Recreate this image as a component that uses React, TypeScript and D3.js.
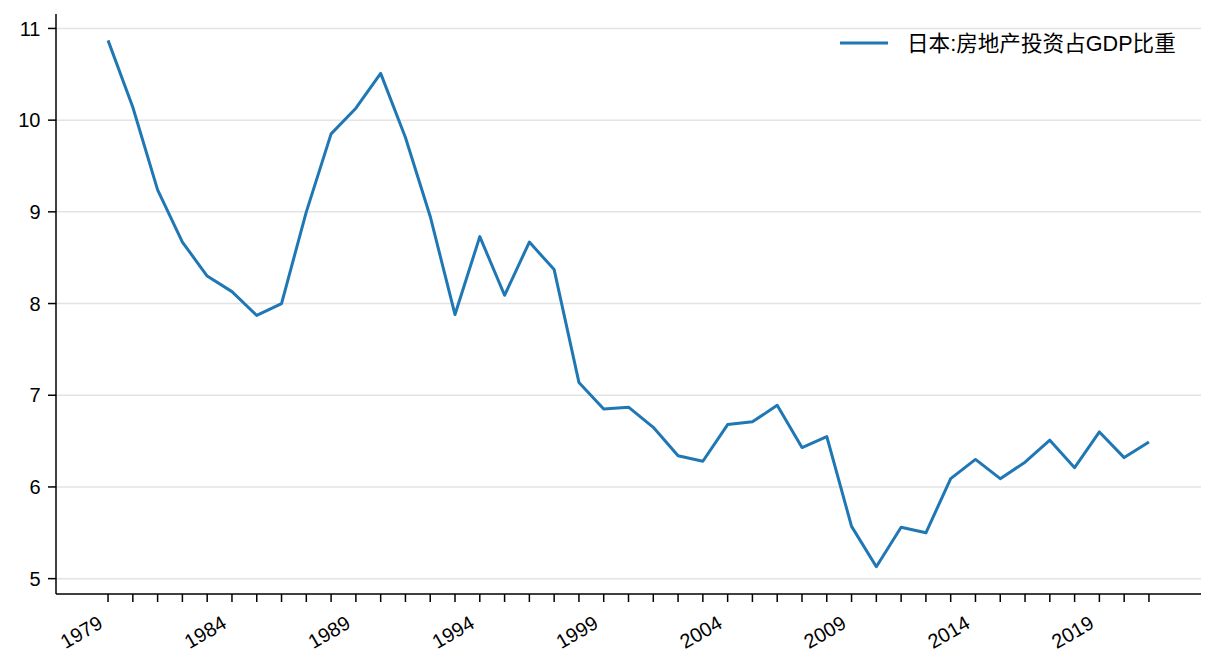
import React from 'react'
import * as d3 from 'd3'

const years = [
  1979, 1980, 1981, 1982, 1983, 1984, 1985, 1986, 1987, 1988, 1989, 1990, 1991, 1992, 1993,
  1994, 1995, 1996, 1997, 1998, 1999, 2000, 2001, 2002, 2003, 2004, 2005, 2006, 2007, 2008,
  2009, 2010, 2011, 2012, 2013, 2014, 2015, 2016, 2017, 2018, 2019, 2020, 2021
]

const shareOfGdp = [
  10.87, 10.14, 9.24, 8.67, 8.3, 8.13, 7.87, 8.0, 9.0, 9.85, 10.13, 10.51, 9.81, 8.95, 7.88,
  8.73, 8.09, 8.67, 8.37, 7.14, 6.85, 6.87, 6.65, 6.34, 6.28, 6.68, 6.71, 6.89, 6.43, 6.55,
  5.57, 5.13, 5.56, 5.5, 6.09, 6.3, 6.09, 6.27, 6.51, 6.21, 6.6, 6.32, 6.49
]

const xLabelYears = [1979, 1984, 1989, 1994, 1999, 2004, 2009, 2014, 2019]
const yTicks = [5, 6, 7, 8, 9, 10, 11]
const seriesName = '日本:房地产投资占GDP比重'

const W = 1216
const H = 672
const FONT = '"Liberation Sans", Arial, "Noto Sans CJK SC", sans-serif'
const BLUE = '#1f77b4'

export default function App() {
  // matplotlib style 5% margins around the data
  const x = d3.scaleLinear().domain([1976.9, 2023.1]).range([56, 1201])
  const y = d3.scaleLinear().domain([4.8325, 11.1575]).range([594, 14])

  const rows = years.map((yr, i) => ({ yr, v: shareOfGdp[i] }))
  const line = d3
    .line<{ yr: number; v: number }>()
    .x((d) => x(d.yr))
    .y((d) => y(d.v))

  const [x0, x1] = x.range()
  const [yb, yt] = y.range()

  return (
    <svg
      width={W}
      height={H}
      style={{ position: 'absolute', left: 0, top: 0, display: 'block', background: '#fff' }}
      fontFamily={FONT}
    >
      {/* grid */}
      {yTicks.map((t) => (
        <line key={'g' + t} x1={x0} x2={x1} y1={y(t)} y2={y(t)} stroke="#e3e3e3" strokeWidth={1.5} />
      ))}

      {/* series */}
      <path d={line(rows) || ''} fill="none" stroke={BLUE} strokeWidth={3} strokeLinejoin="round" />

      {/* y axis */}
      <line x1={x0} x2={x0} y1={yb} y2={yt} stroke="#000" strokeWidth={1.5} />
      {yTicks.map((t) => (
        <g key={'y' + t} transform={`translate(0,${y(t)})`}>
          <line x1={x0 - 8} x2={x0} stroke="#000" strokeWidth={1.5} />
          <text x={x0 - 15.5} dy="0.36em" textAnchor="end" fontSize={20} fill="#000">
            {t}
          </text>
        </g>
      ))}

      {/* x axis */}
      <line x1={x0} x2={x1} y1={yb} y2={yb} stroke="#000" strokeWidth={1.5} />
      {years.map((yr) => (
        <line key={'t' + yr} x1={x(yr)} x2={x(yr)} y1={yb} y2={yb + 8} stroke="#000" strokeWidth={1.5} />
      ))}
      {xLabelYears.map((yr) => (
        <text
          key={'l' + yr}
          transform={`translate(${x(yr) - 4},627) rotate(-30)`}
          textAnchor="end"
          fontSize={20}
          fill="#000"
        >
          {yr}
        </text>
      ))}

      {/* legend */}
      <line x1={840} x2={888} y1={43} y2={43} stroke={BLUE} strokeWidth={3} />
      <text x={907} y={43} dy="0.36em" fontSize={21.6} fill="#000">
        {seriesName}
      </text>
    </svg>
  )
}
